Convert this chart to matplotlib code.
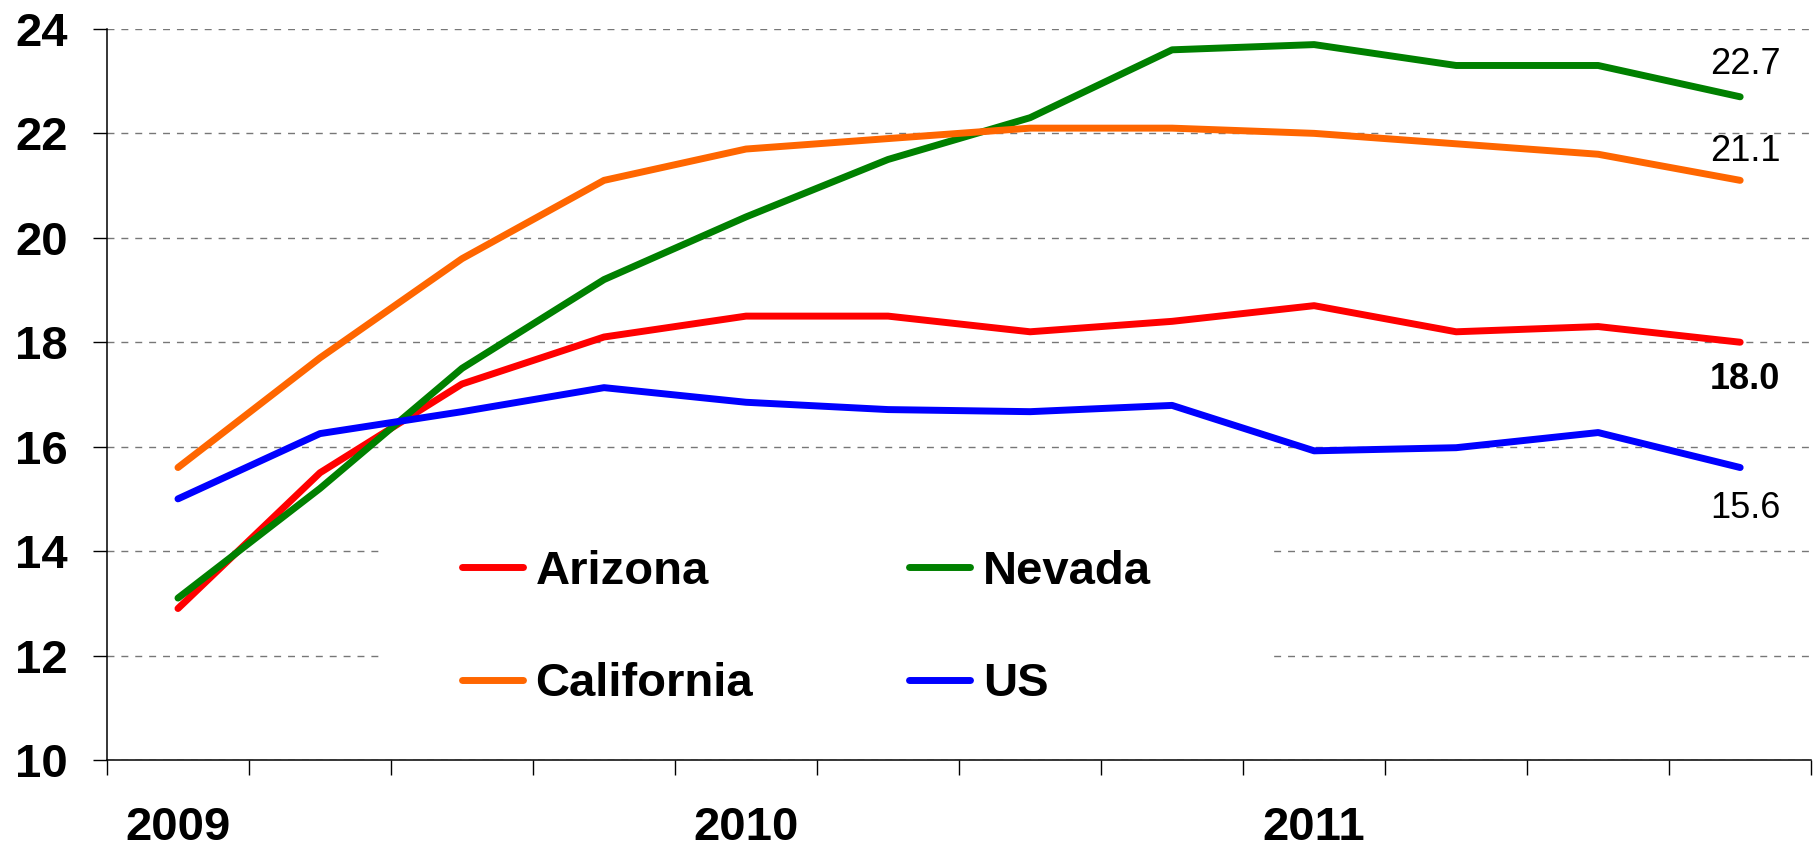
import matplotlib
matplotlib.use('Agg')
import matplotlib.pyplot as plt
import numpy as np
from matplotlib.patches import Rectangle

plt.rcParams['font.family'] = ['Liberation Sans', 'DejaVu Sans']

# quarterly values, 2009 Q1 .. 2011 Q4
quarters = ['2009', '', '', '', '2010', '', '', '', '2011', '', '', '']
arizona = [12.9, 15.5, 17.2, 18.1, 18.5, 18.5, 18.2, 18.4, 18.7, 18.2, 18.3, 18.0]
nevada = [13.1, 15.2, 17.5, 19.2, 20.4, 21.5, 22.3, 23.6, 23.7, 23.3, 23.3, 22.7]
california = [15.6, 17.7, 19.6, 21.1, 21.7, 21.9, 22.1, 22.1, 22.0, 21.8, 21.6, 21.1]
us = [15.0, 16.25, 16.67, 17.13, 16.85, 16.71, 16.67, 16.79, 15.92, 15.98, 16.27, 15.6]

series = [('Arizona', arizona, '#FF0000'),
          ('Nevada', nevada, '#008000'),
          ('California', california, '#FF6600'),
          ('US', us, '#0000FF')]

fig = plt.figure(figsize=(18.13, 8.51), dpi=100)
ax = fig.add_axes([0.059, 0.107, 0.94, 0.859])

x = np.arange(len(quarters))
handles = {}
for name, vals, col in series:
    h, = ax.plot(x, vals, color=col, lw=5, solid_capstyle='round',
                 solid_joinstyle='round', zorder=3)
    handles[name] = h

ax.set_xlim(-0.5, len(quarters) - 0.5)
ax.set_ylim(10, 24)
ax.set_yticks(np.arange(10, 25, 2))

# grid, interrupted by the legend block
ax.set_axisbelow(True)
ax.yaxis.grid(True, color='#777777', ls=(0, (5, 5)), lw=1)
ax.add_patch(Rectangle((0.16, 0.027), 0.525, 0.33, transform=ax.transAxes,
                       facecolor='white', edgecolor='none', zorder=1))

for s in ['top', 'right']:
    ax.spines[s].set_visible(False)
for s in ['left', 'bottom']:
    ax.spines[s].set_linewidth(1.1)

# boundaries get tick marks, year labels sit at quarter centres
ax.set_xticks(np.arange(len(quarters) + 1) - 0.5)
ax.set_xticklabels([])
ax.set_xticks(x, minor=True)
ax.set_xticklabels(quarters, minor=True, fontsize=34, fontweight='bold')
ax.tick_params(axis='x', which='major', length=11, width=1, direction='out')
ax.tick_params(axis='x', which='minor', length=0, pad=33)
ax.tick_params(axis='y', length=10, width=1, pad=18, labelsize=34)
for t in ax.get_yticklabels():
    t.set_fontweight('bold')

# end labels
ax.annotate('22.7', (x[-1], nevada[-1]), xytext=(5, 32), textcoords='offset pixels',
            ha='center', va='center', fontsize=26)
ax.annotate('21.1', (x[-1], california[-1]), xytext=(5, 29), textcoords='offset pixels',
            ha='center', va='center', fontsize=26)
ax.annotate('18.0', (x[-1], arizona[-1]), xytext=(5, -37), textcoords='offset pixels',
            ha='center', va='center', fontsize=26, fontweight='bold')
ax.annotate('15.6', (x[-1], us[-1]), xytext=(5, -41), textcoords='offset pixels',
            ha='center', va='center', fontsize=26)

order = ['Arizona', 'California', 'Nevada', 'US']
leg = ax.legend([handles[n] for n in order], order, ncol=2, loc='center left',
                bbox_to_anchor=(0.2083, 0.1806), frameon=False, borderpad=0,
                borderaxespad=0, handlelength=1.3, handletextpad=0.26,
                columnspacing=3.3, labelspacing=1.45,
                prop={'size': 34, 'weight': 'bold'})
for line in leg.get_lines():
    line.set_linewidth(5)
    line.set_solid_capstyle('round')

fig.savefig('out.png', dpi=100)
